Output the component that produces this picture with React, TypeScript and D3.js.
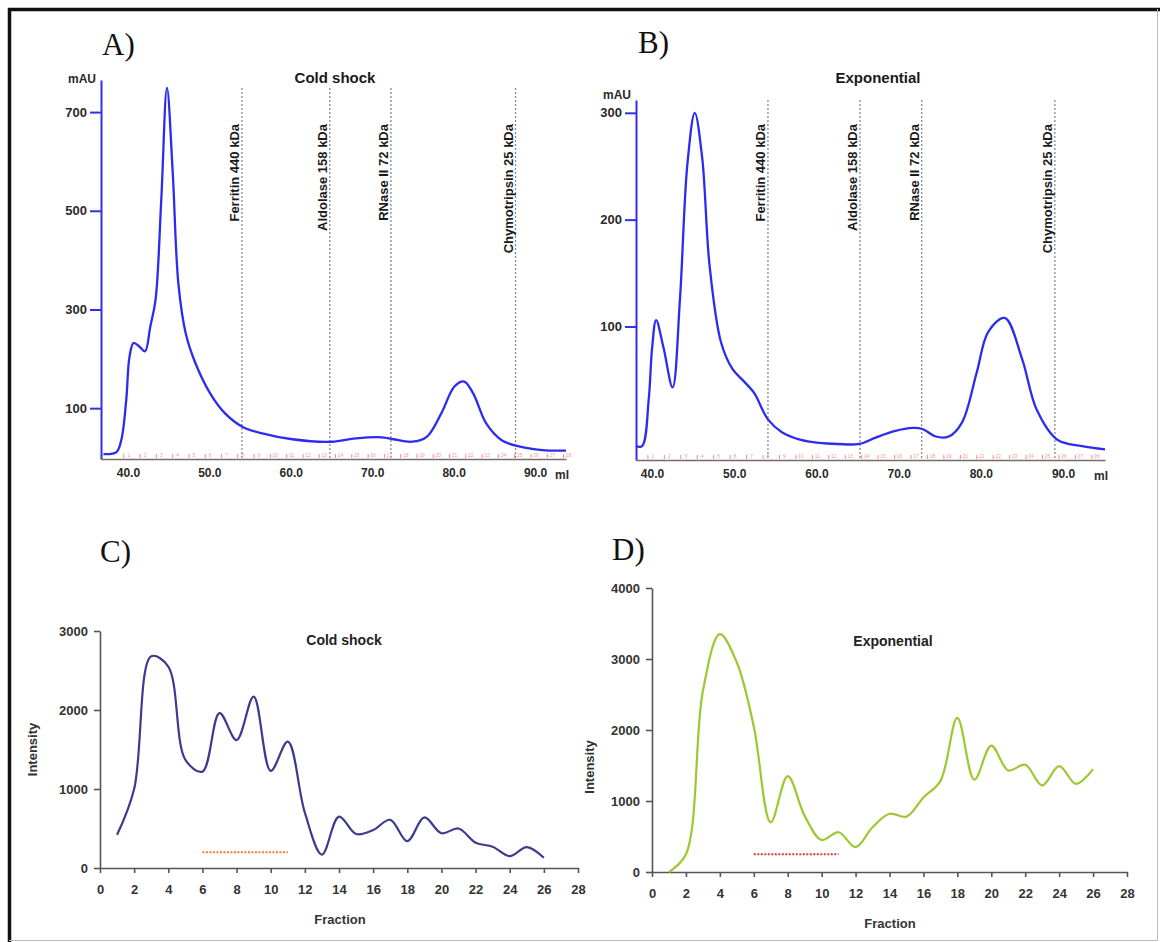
import React from 'react';
import * as d3 from 'd3';

// A) / B) size exclusion runs, absorbance (mAU) against elution volume (ml)
const mlColdShock = [37.0, 38.6, 39.2, 39.8, 40.2, 40.7, 41.4, 42.1, 42.75, 43.4, 44.1, 44.8, 45.5, 46.2, 47.1, 48.3, 50.1, 51.9, 54.1, 56.5, 60.2, 65.0, 68.0, 71.2, 72.6, 74.9, 76.7, 78.5, 80.1, 81.3, 82.4, 84.0, 85.9, 87.9, 90.9, 93.8];
const mauColdShock = [7, 11, 36, 117, 204, 232, 225, 215, 265, 320, 522, 749, 580, 353, 252, 191, 130, 90, 62, 49, 37, 32, 39, 41, 37, 32, 42, 90, 144, 154, 130, 69, 35, 23, 15, 14];

const mlExponential = [38.05, 38.8, 39.6, 40.0, 40.5, 41.4, 42.5, 43.4, 44.3, 45.2, 46.1, 47.0, 48.4, 49.8, 51.0, 52.4, 54.1, 55.8, 58.0, 60.3, 62.6, 65.2, 67.2, 69.5, 71.7, 72.9, 74.5, 76.1, 77.7, 79.5, 80.9, 82.9, 85.0, 86.8, 89.3, 92.3, 95.1];
const mauExponential = [-12, -12, 32, 79, 106, 80, 43, 126, 252, 300, 258, 157, 85, 60, 50, 38, 13, 1, -6, -9, -10, -10, -4, 2, 5, 4, -3, -3, 10, 57, 95, 108, 70, 22, -6, -12, -15];

const standards = ['Ferritin 440 kDa', 'Aldolase 158 kDa', 'RNase II 72 kDa', 'Chymotripsin 25 kDa'];
const standardsMlA = [54.0, 64.8, 72.3, 87.6];
const standardsMlB = [54.1, 65.3, 72.8, 89.0];

const fractionMl = [39.5, 41.5, 43.5, 45.5, 47.5, 49.5, 51.5, 53.5, 55.5, 57.5, 59.5, 61.5, 63.5, 65.5, 67.5, 69.5, 71.5, 73.5, 75.5, 77.5, 79.5, 81.5, 83.5, 85.5, 87.5, 89.5, 91.5, 93.5];

const mlTicks = [40, 50, 60, 70, 80, 90];
const mauTicksA = [100, 300, 500, 700];
const mauTicksB = [100, 200, 300];

// C) / D) intensity per collected fraction
const fractions = [1, 2, 3, 4, 5, 6, 7, 8, 9, 10, 11, 12, 13, 14, 15, 16, 17, 18, 19, 20, 21, 22, 23, 24, 25, 26];
const intensityColdShock = [420, 1000, 2680, 2550, 1370, 1220, 1960, 1620, 2170, 1230, 1600, 700, 170, 650, 430, 480, 610, 340, 640, 440, 500, 320, 270, 150, 265, 130];
const intensityExponential = [0, 250, 2550, 3350, 2950, 2050, 700, 1350, 790, 450, 560, 350, 630, 820, 780, 1050, 1280, 2170, 1300, 1780, 1430, 1510, 1220, 1490, 1240, 1450];

const fractionTicks = [0, 2, 4, 6, 8, 10, 12, 14, 16, 18, 20, 22, 24, 26, 28];
const intensityTicksC = [0, 1000, 2000, 3000];
const intensityTicksD = [0, 1000, 2000, 3000, 4000];
const pooledRange = [6, 11];
const pooledLevelC = 200;
const pooledLevelD = 250;

const SANS = 'Liberation Sans, Arial, sans-serif';
const SERIF = 'Liberation Serif, Times New Roman, serif';

type Sel = d3.Selection<SVGGElement, unknown, null, undefined>;

const drawChromatogram = (g: Sel, o: any) => {
  const {x, y, ml, mau, stdMl, yTicks, title, titleX} = o;
  const [y0, y1] = y.range();
  const [x0, x1] = x.range();

  // standards
  stdMl.forEach((v: number, i: number) => {
    g.append('line')
      .attr('x1', x(v)).attr('x2', x(v))
      .attr('y1', y1 + o.markTop).attr('y2', y0)
      .attr('stroke', '#8a8a8a').attr('stroke-width', 1.3)
      .attr('stroke-dasharray', '2,2');
    g.append('text')
      .attr('transform', `translate(${x(v) - 3},124) rotate(-90)`)
      .attr('text-anchor', 'end')
      .attr('font-family', SANS).attr('font-size', 13).attr('font-weight', 'bold')
      .attr('fill', '#1a1a1a')
      .text(standards[i]);
  });

  // fraction marks along the base
  fractionMl.filter(v => v <= x.domain()[1]).forEach((v, i) => {
    g.append('line')
      .attr('x1', x(v)).attr('x2', x(v))
      .attr('y1', y0 - 5).attr('y2', y0 - 1)
      .attr('stroke', '#f08a8a').attr('stroke-width', 1);
    g.append('text')
      .attr('x', x(v) + 5).attr('y', y0 - 2)
      .attr('text-anchor', 'middle')
      .attr('font-family', SANS).attr('font-size', 5)
      .attr('fill', '#f29a9a')
      .text(i + 1);
  });

  const axisY = g.append('g')
    .attr('transform', `translate(${x0},0)`)
    .call(d3.axisLeft(y).tickValues(yTicks).tickSize(11).tickSizeOuter(0).tickPadding(3).tickFormat(d3.format('d')));
  axisY.select('.domain').attr('stroke', '#3030e8').attr('stroke-width', 2);
  axisY.selectAll('.tick line').attr('stroke', '#3030e8').attr('stroke-width', 2);
  axisY.selectAll('.tick text').attr('fill', '#2a2a2a');
  axisY.attr('font-family', SANS).attr('font-size', 13).attr('font-weight', 'bold');

  const axisX = g.append('g')
    .attr('transform', `translate(0,${y0})`)
    .call(d3.axisBottom(x).tickValues(mlTicks).tickSize(0).tickSizeOuter(0).tickPadding(9).tickFormat(d3.format('.1f')));
  axisX.select('.domain').attr('stroke', '#7a6a6a').attr('stroke-width', 1.5);
  axisX.selectAll('.tick text').attr('fill', '#2a2a2a');
  axisX.attr('font-family', SANS).attr('font-size', 12).attr('font-weight', 'bold');

  g.append('text')
    .attr('x', x1 - 4).attr('y', y0 + 20)
    .attr('text-anchor', 'middle')
    .attr('font-family', SANS).attr('font-size', 12).attr('font-weight', 'bold').attr('fill', '#2a2a2a')
    .text('ml');

  g.append('text')
    .attr('x', x0 - 5).attr('y', y1 + o.mauDy)
    .attr('text-anchor', 'end')
    .attr('font-family', SANS).attr('font-size', 12).attr('font-weight', 'bold').attr('fill', '#2a2a2a')
    .text('mAU');

  g.append('text')
    .attr('x', titleX).attr('y', 83)
    .attr('text-anchor', 'middle')
    .attr('font-family', SANS).attr('font-size', 15).attr('font-weight', 'bold').attr('fill', '#1a1a1a')
    .text(title);

  const line = d3.line<number>()
    .x((d, i) => x(ml[i]))
    .y(d => y(d))
    .curve(d3.curveCatmullRom.alpha(0.5));

  g.append('path')
    .attr('d', line(mau))
    .attr('fill', 'none')
    .attr('stroke', '#2c2cf0')
    .attr('stroke-width', 2.3);
};

const drawFractions = (g: Sel, o: any) => {
  const {x, y, values, yTicks, color, poolColor, poolLevel, title, titleX} = o;
  const [y0, y1] = y.range();
  const [x0] = x.range();

  const axisY = g.append('g')
    .attr('transform', `translate(${x0},0)`)
    .call(d3.axisLeft(y).tickValues(yTicks).tickSize(6).tickSizeOuter(0).tickPadding(6).tickFormat(d3.format('d')));
  const axisX = g.append('g')
    .attr('transform', `translate(0,${y0})`)
    .call(d3.axisBottom(x).tickValues(fractionTicks).tickSize(5).tickSizeOuter(0).tickPadding(12));

  [axisY, axisX].forEach(a => {
    a.attr('font-family', SANS).attr('font-size', 13).attr('font-weight', 'bold');
    a.select('.domain').attr('stroke', '#555').attr('stroke-width', 1.6);
    a.selectAll('.tick line').attr('stroke', '#555').attr('stroke-width', 1.6);
    a.selectAll('.tick text').attr('fill', '#333');
  });

  g.append('text')
    .attr('x', o.fractionX).attr('y', y0 + 56)
    .attr('text-anchor', 'middle')
    .attr('font-family', SANS).attr('font-size', 13).attr('font-weight', 'bold').attr('fill', '#333')
    .text('Fraction');

  g.append('text')
    .attr('transform', `translate(${o.labelX},${(y0 + y1) / 2 + o.labelDy}) rotate(-90)`)
    .attr('text-anchor', 'middle')
    .attr('font-family', SANS).attr('font-size', 13).attr('font-weight', 'bold').attr('fill', '#333')
    .text('Intensity');

  g.append('text')
    .attr('x', titleX).attr('y', o.titleY)
    .attr('text-anchor', 'middle')
    .attr('font-family', SANS).attr('font-size', 14).attr('font-weight', 'bold').attr('fill', '#222')
    .text(title);

  g.append('line')
    .attr('x1', x(pooledRange[0])).attr('x2', x(pooledRange[1]))
    .attr('y1', y(poolLevel)).attr('y2', y(poolLevel))
    .attr('stroke', poolColor).attr('stroke-width', 2)
    .attr('stroke-dasharray', '2,1.5');

  const line = d3.line<number>()
    .x((d, i) => x(fractions[i]))
    .y(d => y(d))
    .curve(d3.curveCatmullRom.alpha(0.5));

  g.append('path')
    .attr('d', line(values))
    .attr('fill', 'none')
    .attr('stroke', color)
    .attr('stroke-width', 2.2);
};

export default function App() {
  const ref = React.useRef<SVGSVGElement>(null);

  React.useEffect(() => {
    if (!ref.current) return;
    const svg = d3.select(ref.current);
    svg.selectAll('*').remove();

    svg.append('rect').attr('width', 1160).attr('height', 942).attr('fill', '#fff');

    // frame
    svg.append('path').attr('d', 'M9.5,942 V9.5 H1160').attr('fill', 'none').attr('stroke', '#111').attr('stroke-width', 3.5);
    svg.append('path').attr('d', 'M1157.5,9 V940.5 H9').attr('fill', 'none').attr('stroke', '#bbb').attr('stroke-width', 1);

    const panelLabels = [['A)', 102, 55], ['B)', 638, 53], ['C)', 100, 562], ['D)', 612, 560]];
    panelLabels.forEach(([t, px, py]) => {
      svg.append('text')
        .attr('x', px).attr('y', py)
        .attr('font-family', SERIF).attr('font-size', 31)
        .attr('fill', '#111')
        .text(t as string);
    });

    drawChromatogram(svg.append('g'), {
      x: d3.scaleLinear().domain([36.7, 93.8]).range([101, 566]),
      y: d3.scaleLinear().domain([-3, 765]).range([459, 80]),
      ml: mlColdShock, mau: mauColdShock, stdMl: standardsMlA,
      yTicks: mauTicksA, title: 'Cold shock', titleX: 335, markTop: 8, mauDy: 3,
    });

    drawChromatogram(svg.append('g'), {
      x: d3.scaleLinear().domain([38.05, 95.1]).range([636, 1105]),
      y: d3.scaleLinear().domain([-25, 312]).range([460, 100]),
      ml: mlExponential, mau: mauExponential, stdMl: standardsMlB,
      yTicks: mauTicksB, title: 'Exponential', titleX: 878, markTop: 0, mauDy: -1,
    });

    drawFractions(svg.append('g'), {
      x: d3.scaleLinear().domain([0, 28]).range([100, 578]),
      y: d3.scaleLinear().domain([0, 3000]).range([868, 631]),
      values: intensityColdShock, yTicks: intensityTicksC,
      color: '#3b3b8f', poolColor: '#f07a3a', poolLevel: pooledLevelC,
      title: 'Cold shock', titleX: 344, titleY: 645, labelX: 37, labelDy: 0, fractionX: 340,
    });

    drawFractions(svg.append('g'), {
      x: d3.scaleLinear().domain([0, 28]).range([652, 1127]),
      y: d3.scaleLinear().domain([0, 4000]).range([872, 588]),
      values: intensityExponential, yTicks: intensityTicksD,
      color: '#9cc92f', poolColor: '#e23a2a', poolLevel: pooledLevelD,
      title: 'Exponential', titleX: 893, titleY: 646, labelX: 594, labelDy: 37, fractionX: 890,
    });
  }, []);

  return (
    <svg ref={ref} width={1160} height={942} style={{position: 'absolute', left: 0, top: 0}} />
  );
}
